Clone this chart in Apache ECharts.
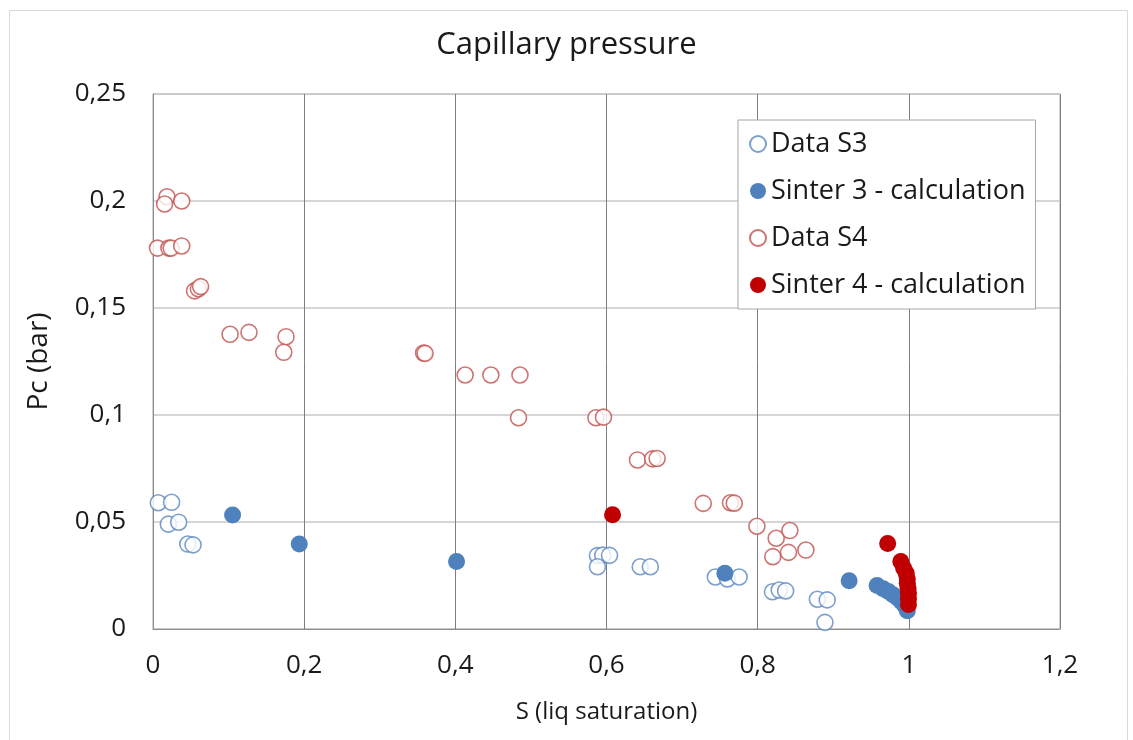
<!DOCTYPE html>
<html>
<head>
<meta charset="utf-8">
<script src="https://cdn.jsdelivr.net/npm/echarts@6/dist/echarts.min.js"></script>
<style>html,body{margin:0;padding:0;background:#fff}#chart{width:1133px;height:740px}</style>
</head>
<body>
<div id="chart"></div>
<script>
const xTicks = [0, 0.2, 0.4, 0.6, 0.8, 1, 1.2];
const yTicks = [0, 0.05, 0.1, 0.15, 0.2, 0.25];

const dataS3 = [
  [0.007, 0.059], [0.0246, 0.0592], [0.0203, 0.049], [0.034, 0.0499],
  [0.046, 0.0397], [0.053, 0.0393],
  [0.588, 0.0343], [0.595, 0.0345], [0.604, 0.0344], [0.588, 0.0291],
  [0.6446, 0.0291], [0.658, 0.0291],
  [0.744, 0.0243], [0.760, 0.0234], [0.7755, 0.0243],
  [0.8196, 0.0174], [0.8285, 0.0182], [0.837, 0.0178],
  [0.879, 0.0139], [0.892, 0.0136], [0.889, 0.0031]
];

const sinter3 = [
  [0.1053, 0.0533], [0.1935, 0.0397], [0.4016, 0.0315], [0.7566, 0.026],
  [0.921, 0.0226], [0.958, 0.0203], [0.966, 0.0188], [0.973, 0.0175],
  [0.979, 0.0160], [0.985, 0.0145], [0.990, 0.0128], [0.994, 0.0112],
  [0.997, 0.0098], [0.998, 0.0085]
];

const dataS4 = [
  [0.0185, 0.202], [0.0154, 0.1986], [0.038, 0.200],
  [0.006, 0.178], [0.021, 0.178], [0.024, 0.178], [0.038, 0.179],
  [0.055, 0.158], [0.060, 0.159], [0.063, 0.160],
  [0.102, 0.1377], [0.127, 0.1386], [0.176, 0.1366], [0.173, 0.1293],
  [0.358, 0.129], [0.360, 0.1288],
  [0.413, 0.1187], [0.447, 0.1187], [0.4855, 0.1187], [0.4836, 0.0987],
  [0.586, 0.0987], [0.596, 0.099],
  [0.641, 0.079], [0.661, 0.0795], [0.667, 0.0797],
  [0.728, 0.0587], [0.764, 0.059], [0.769, 0.0588],
  [0.799, 0.048], [0.8245, 0.0424], [0.8426, 0.046],
  [0.820, 0.0338], [0.8408, 0.0358], [0.8638, 0.0369]
];

const sinter4 = [
  [0.608, 0.0534], [0.972, 0.040], [0.9894, 0.0315], [0.993, 0.0285],
  [0.9966, 0.026], [0.998, 0.0235], [0.998, 0.0214], [0.999, 0.019],
  [0.9995, 0.0167], [0.9995, 0.0140], [0.9995, 0.0115]
];

const FONT = '"Open Sans", "Noto Sans", sans-serif';
const comma = v => String(+v.toFixed(4)).replace('.', ',');

const chart = echarts.init(document.getElementById('chart'));
chart.setOption({
  backgroundColor: '#ffffff',
  animation: false,
  textStyle: { fontFamily: FONT },
  graphic: [{
    type: 'rect', z: -10, silent: true,
    shape: { x: 9.5, y: 10.5, width: 1118, height: 740 },
    style: { fill: 'none', stroke: '#d9d9d9', lineWidth: 1 }
  }],
  title: {
    text: 'Capillary pressure', left: 'center', top: 25,
    textStyle: { fontFamily: FONT, fontSize: 31, fontWeight: 'normal', color: '#1a1a1a' }
  },
  grid: { left: 153, right: 73, top: 94, bottom: 111, show: true, borderColor: '#a6a6a6', borderWidth: 1 },
  legend: {
    orient: 'vertical', left: 738, top: 120,
    padding: [10, 10, 10, 11], itemGap: 19, itemWidth: 16, itemHeight: 16,
    backgroundColor: '#fff', borderColor: '#a6a6a6', borderWidth: 1,
    textStyle: { fontFamily: FONT, fontSize: 27, color: '#1a1a1a', lineHeight: 28 },
    data: ['Data S3', 'Sinter 3 - calculation', 'Data S4', 'Sinter 4 - calculation']
  },
  xAxis: {
    type: 'value', min: 0, max: 1.2, interval: 0.2,
    name: 'S (liq saturation)', nameLocation: 'middle', nameGap: 71,
    nameTextStyle: { fontFamily: FONT, fontSize: 24, color: '#1a1a1a' },
    axisLine: { show: true, lineStyle: { color: '#8c8c8c' } },
    axisTick: { show: false },
    axisLabel: { formatter: comma, fontSize: 26, color: '#1a1a1a', margin: 24, fontFamily: FONT },
    splitLine: { show: true, lineStyle: { color: '#7f7f7f', width: 1 } }
  },
  yAxis: {
    type: 'value', min: 0, max: 0.25, interval: 0.05,
    name: 'Pc (bar)', nameLocation: 'middle', nameGap: 100,
    nameTextStyle: { fontFamily: FONT, fontSize: 28, color: '#1a1a1a' },
    axisLine: { show: true, lineStyle: { color: '#8c8c8c' } },
    axisTick: { show: false },
    axisLabel: { formatter: comma, fontSize: 26, color: '#1a1a1a', margin: 27, fontFamily: FONT },
    splitLine: { show: true, lineStyle: { color: '#c8c8c8', width: 1.5 } }
  },
  series: [
    {
      name: 'Data S3', type: 'scatter', data: dataS3, symbol: 'circle', symbolSize: 16,
      itemStyle: { color: '#ffffff', borderColor: '#5b87c0', borderWidth: 1.6 }
    },
    {
      name: 'Sinter 3 - calculation', type: 'scatter', data: sinter3, symbol: 'circle', symbolSize: 17,
      itemStyle: { color: '#4f81bd', opacity: 1 }
    },
    {
      name: 'Data S4', type: 'scatter', data: dataS4, symbol: 'circle', symbolSize: 16,
      itemStyle: { color: '#ffffff', borderColor: '#c0504d', borderWidth: 1.6 }
    },
    {
      name: 'Sinter 4 - calculation', type: 'scatter', data: sinter4, symbol: 'circle', symbolSize: 17,
      itemStyle: { color: '#c00000', opacity: 1 }
    }
  ]
});
</script>
</body>
</html>
